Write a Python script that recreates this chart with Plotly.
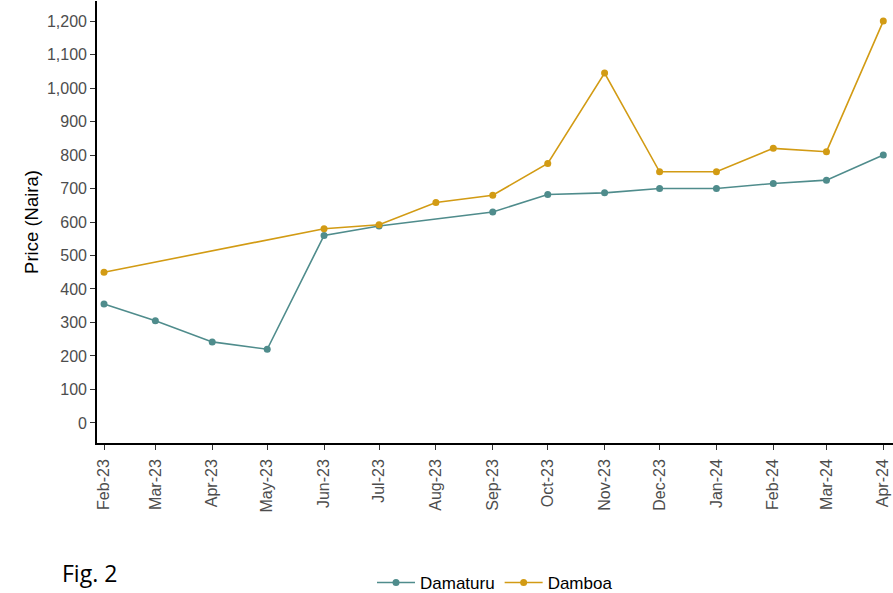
import plotly.graph_objects as go

months = ["2023-02-01", "2023-03-01", "2023-04-01", "2023-05-01", "2023-06-01",
          "2023-07-01", "2023-08-01", "2023-09-01", "2023-10-01", "2023-11-01",
          "2023-12-01", "2024-01-01", "2024-02-01", "2024-03-01", "2024-04-01"]
damaturu = [355, 305, 242, 220, 560, 588, None, 630, 682, 687, 700, 700, 715, 725, 800]
damboa = [450, None, None, None, 580, 592, 658, 680, 775, 1045, 750, 750, 820, 810, 1200]

teal = "#4f8c8c"
gold = "#d29b14"

fig = go.Figure()
fig.add_trace(go.Scatter(x=months, y=damaturu, name="Damaturu", mode="lines+markers",
                         connectgaps=True, line=dict(color=teal, width=1.6),
                         marker=dict(color=teal, size=7)))
fig.add_trace(go.Scatter(x=months, y=damboa, name="Damboa", mode="lines+markers",
                         connectgaps=True, line=dict(color=gold, width=1.6),
                         marker=dict(color=gold, size=7)))

fig.update_layout(
    width=893, height=593,
    margin=dict(l=97, r=0, t=1, b=150, autoexpand=False),
    plot_bgcolor="white", paper_bgcolor="white",
    font=dict(family="Liberation Sans, Arial, sans-serif", color="#000000"),
    showlegend=True,
    legend=dict(orientation="h", x=0.5, xanchor="center",
                yref="container", y=1 - 583 / 593, yanchor="middle",
                font=dict(size=17, color="#000000"), itemwidth=38),
    annotations=[dict(text="Fig. 2", xref="paper", yref="paper", x=-0.046, y=(443 - 572.5) / 442,
                      xanchor="left", yanchor="middle", showarrow=False,
                      font=dict(family="Open Sans, sans-serif", size=23, color="#000000"))],
)
fig.update_xaxes(
    type="date", range=["2023-01-28 04:00", "2024-04-06 07:00"],
    tickvals=months, tickformat="%b-%y", tickangle=-90,
    showline=True, linecolor="#000000", linewidth=1.6,
    ticks="outside", ticklen=5, tickcolor="#333333", tickwidth=1.3,
    tickfont=dict(size=16, color="#4d4d4d"), ticklabelstandoff=3,
    showgrid=False, zeroline=False, automargin=False,
)
fig.update_yaxes(
    range=[-60, 1260], tickvals=list(range(0, 1201, 100)), tickformat=",d",
    title=dict(text="Price (Naira)", font=dict(size=18.5, color="#000000"), standoff=3),
    showline=True, linecolor="#000000", linewidth=1.6,
    ticks="outside", ticklen=5, tickcolor="#333333", tickwidth=1.3,
    tickfont=dict(size=16, color="#4d4d4d"),
    showgrid=False, zeroline=False, automargin=False,
)

fig.write_html("out.html", config={"displayModeBar": False},
               post_script="document.body.style.margin='0';")
